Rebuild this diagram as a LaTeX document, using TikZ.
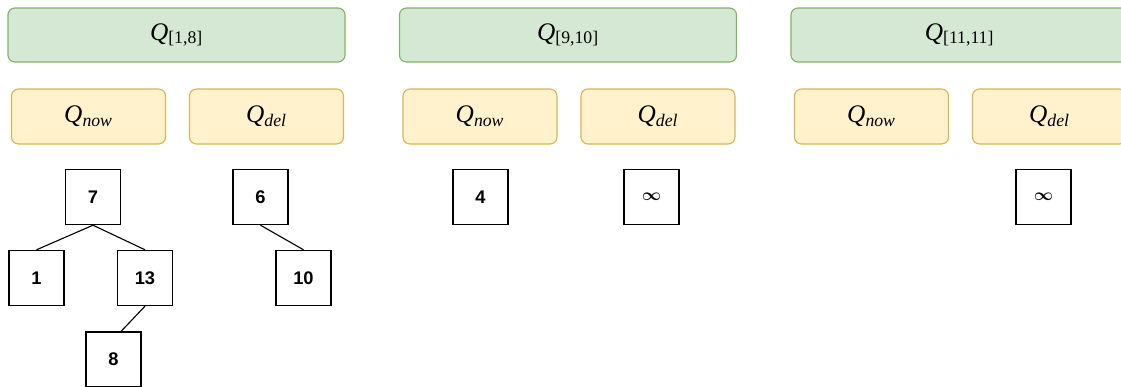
\documentclass[tikz,border=0pt]{standalone}
\usepackage{amsmath}
\usepackage{fontspec}
\setmainfont{Liberation Serif}
\newfontfamily\keyfont{Liberation Sans}
\usepackage{tikz}
\usetikzlibrary{positioning}
\definecolor{grfill}{HTML}{D5E8D4}
\definecolor{grline}{HTML}{82B366}
\definecolor{ylfill}{HTML}{FFF2CC}
\definecolor{ylline}{HTML}{D6B656}
\newcommand{\qlab}[2]{\textit{#1}\textsubscript{#2}}
\tikzset{qbox/.style = {rectangle,rounded corners=5pt,draw=grline,fill=grfill,line width=0.8pt,
                        minimum width=8.425cm,minimum height=1.35cm,font=\fontsize{18}{21}\selectfont},
         subbox/.style = {rectangle,rounded corners=5pt,draw=ylline,fill=ylfill,line width=0.8pt,
                        minimum width=3.85cm,minimum height=1.375cm,font=\fontsize{18}{21}\selectfont},
         key/.style = {rectangle,draw,line width=1pt,minimum size=1.375cm,inner sep=0pt,
                        font=\keyfont\bfseries\fontsize{13}{15}\selectfont}}

\begin{document}
\begin{tikzpicture}[x=0.025cm,y=-0.025cm]
                \useasboundingbox (0,0) rectangle (1121,387);
                \begin{scope}
                \clip (0,0) rectangle (1121,387);
                \foreach \i/\x/\lab in {1/176.5/{[1,8]},2/568/{[9,10]},3/959.5/{[11,11]}} {
                    \node [qbox] (q\i) at (\x,35) {\qlab{Q}{\lab}};
                    \node [subbox] (now\i) at (\x-88,116.5) {\qlab{Q}{\textit{now}}};
                    \node [subbox] (del\i) at (\x+90,116.5) {\qlab{Q}{\textit{del}}};
                }
                \end{scope}
                % first group
                \node [key] (k7) at (93,197) {7};
                \node [key] (k1) at (36.5,278) {1};
                \node [key] (k13) at (145,278) {13};
                \node [key] (k8) at (113.5,359.5) {8};
                \node [key] (k6) at (260.5,197) {6};
                \node [key] (k10) at (303.5,278) {10};
                % second and third group
                \node [key] (k4) at (480.5,197) {4};
                \node [key] (inf2) at (651.5,197) {$\boldsymbol{\infty}$};
                \node [key] (inf3) at (1043.5,197) {$\boldsymbol{\infty}$};
                \draw [line width=0.8pt] (k7.south) -- (k1.north);
                \draw [line width=0.8pt] (k7.south) -- (k13.north);
                \draw [line width=0.8pt] (k13.south) -- ([xshift=0.19cm]k8.north);
                \draw [line width=0.8pt] (k6.south) -- (k10.north);
            \end{tikzpicture}
\end{document}
